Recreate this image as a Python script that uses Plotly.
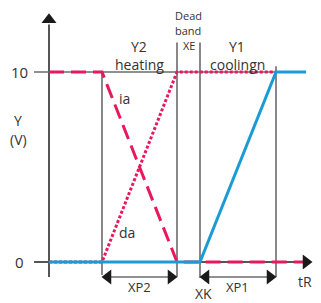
import plotly.graph_objects as go

# breakpoints along tR (offset from the Y axis), output in volts
x_points = {"start": 0, "heat": 53, "xe": 128, "xk": 151, "cool": 227, "end": 257}
ia_x = [0, 53, 128, 257]
ia_y = [10, 10, 0, 0]
da_x = [0, 53, 128, 227]
da_y = [0, 0, 10, 10]
cool_x = [0, 151, 227, 257]
cool_y = [0, 0, 10, 10]
y_ticks = [0, 10]
y_tick_labels = ["0", "10"]

RED = "#e8185c"
BLUE = "#1a9bd7"
GRAY = "#6b6b6b"
AX = "#555555"
FONT = "Open Sans"

PY = 19.0           # px per volt
def vy(py):         # pixel offset from the y=0 line -> volts
    return py / PY

fig = go.Figure()

shapes = []
def line(x0, y0, x1, y1, color=GRAY, w=1.6):
    shapes.append(dict(type="line", x0=x0, y0=y0, x1=x1, y1=y1,
                       line=dict(color=color, width=w), layer="below"))

# axes
line(0, vy(-15), 0, 12.5, AX, 2)
line(-15, 0, 255, 0, AX, 2)
line(-15, 10, x_points["end"], 10, GRAY, 1.6)
# vertical guides
line(x_points["heat"], 10.05, x_points["heat"], vy(-13))
line(x_points["xe"], 11.55, x_points["xe"], vy(-15))
line(x_points["xk"], 11.55, x_points["xk"], vy(-16))
line(x_points["cool"], 10.3, x_points["cool"], vy(-15))
# dimension lines
dim_y = vy(-15)
line(x_points["heat"] + 8, dim_y, x_points["xe"] - 8, dim_y)
line(x_points["xk"] + 8, dim_y, x_points["cool"] - 8, dim_y)

fig.add_trace(go.Scatter(x=da_x, y=da_y, mode="lines",
                         line=dict(color=RED, width=3, dash="3px,2px"), hoverinfo="skip"))
fig.add_trace(go.Scatter(x=ia_x, y=ia_y, mode="lines",
                         line=dict(color=RED, width=3, dash="15px,7px"), hoverinfo="skip"))
fig.add_trace(go.Scatter(x=cool_x, y=cool_y, mode="lines",
                         line=dict(color=BLUE, width=3), hoverinfo="skip"))

# arrowheads
arrows = [
    (0, 12.75, "triangle-up"),
    (257, 0, "triangle-right"),
    (x_points["heat"] + 6, dim_y, "triangle-left"),
    (x_points["xe"] - 6, dim_y, "triangle-right"),
    (x_points["xk"] + 6, dim_y, "triangle-left"),
    (x_points["cool"] - 6, dim_y, "triangle-right"),
]
for ax_, ay_, sym in arrows:
    fig.add_trace(go.Scatter(x=[ax_], y=[ay_], mode="markers",
                             marker=dict(symbol=sym, size=13, color="#1a1a1a",
                                         line=dict(width=0)), hoverinfo="skip"))

def txt(x, y, s, size=14):
    fig.add_annotation(x=x, y=y, text=s, showarrow=False, xanchor="center",
                       yanchor="middle", font=dict(family=FONT, size=size, color="#333333"))

for v, lab in zip(y_ticks, y_tick_labels):
    txt(-30, v, lab, 15)
txt(-31, 7.47, "Y", 14)
txt(-31, 6.47, "(V)", 14)
txt(90, 11.32, "Y2", 14)
txt(90, 10.37, "heating", 14)
txt(139, 13.0, "Dead", 11)
txt(139, 12.2, "band", 11)
txt(140, 11.37, "XE", 11)
txt(188, 11.32, "Y1", 14)
txt(188, 10.37, "coolingn", 14)
txt(75, 8.63, "ia", 14)
txt(78, 1.53, "da", 14)
txt(90, -1.32, "XP2", 13)
txt(154, -1.68, "XK", 14)
txt(188, -1.32, "XP1", 13)
txt(256, -1.05, "tR", 14)

# the page places the figure 8px in from the window's top-left corner
OFF = 8
fig.update_layout(
    width=321, height=303, margin=dict(l=0, r=0, t=0, b=0),
    paper_bgcolor="white", plot_bgcolor="white", showlegend=False,
    shapes=shapes,
    xaxis=dict(range=[-49 + OFF, 272 + OFF], visible=False, fixedrange=True),
    yaxis=dict(range=[(-41 - OFF) / PY, (262 - OFF) / PY], visible=False, fixedrange=True),
)
fig.write_html("out.html")
